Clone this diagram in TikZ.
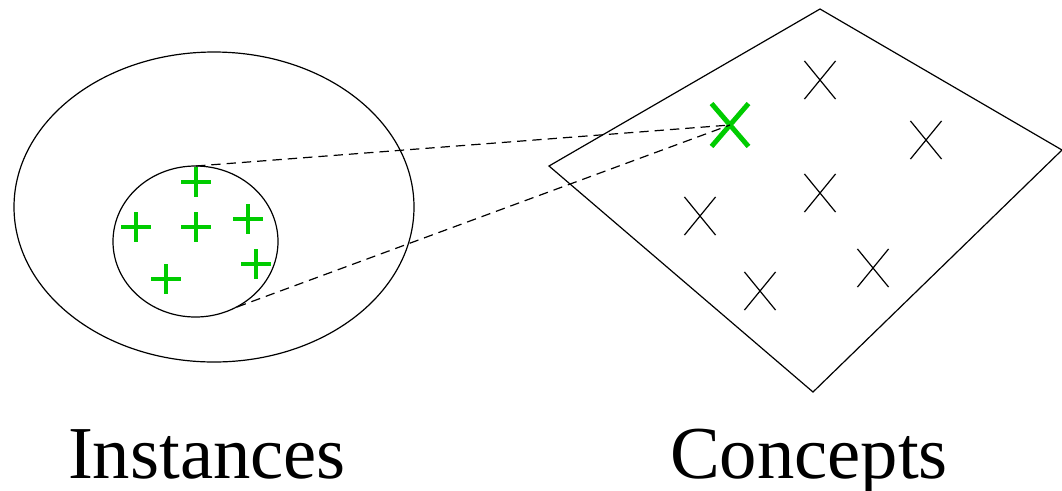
\documentclass[tikz,border=0pt]{standalone}
\usepackage{fontspec}
\setmainfont{Liberation Serif}
\usetikzlibrary{shapes.misc}
\definecolor{grn}{RGB}{0,204,0}
\begin{document}
\begin{tikzpicture}[x=0.75pt,y=-0.75pt,
  thin line/.style={line width=0.9pt,black},
  bx/.style={cross out,draw,line width=0.9pt,minimum width=22.5pt,minimum height=27.75pt,inner sep=0pt},
  gx/.style={cross out,draw=grn,line width=3.7pt,minimum width=24pt,minimum height=28.5pt,inner sep=0pt},
  gplus/.style={draw=grn,line width=2.6pt},
  dashline/.style={line width=0.9pt,dash pattern=on 7pt off 4.5pt},
  lbl/.style={font=\fontsize{56}{60}\selectfont,anchor=base,inner sep=0pt}]
\useasboundingbox (0,0) rectangle (1062,490);
% instances
\draw[thin line] (214,207) ellipse [x radius=200,y radius=155];
\draw[thin line] (195.5,241.5) ellipse [x radius=82.5,y radius=75.5];
\coordinate (itop) at (196,166);
\coordinate (ibot) at (237,307);
\foreach \p/\q in {196/182,136/227,196/227,248/219,256/264,166/279}{
  \draw[gplus] (\p-15,\q) -- (\p+15,\q) (\p,\q-15) -- (\p,\q+15);
}
% concepts
\draw[thin line] (820,9) -- (1062,150) -- (813,392) -- (549,166) -- cycle;
\foreach \p/\q [count=\i] in {820/80,926/140,820/193,700/216,873/268,760/291}{
  \node[bx] (c\i) at (\p,\q) {};
}
\node[gx] (g) at (730,125) {};
\draw[dashline] (itop) -- (g.center);
\draw[dashline] (ibot) -- (g.center);
\node[lbl] (inst) at (207,478) {Instances};
\node[lbl] (conc) at (809,478) {Concepts};
\end{tikzpicture}
\end{document}
